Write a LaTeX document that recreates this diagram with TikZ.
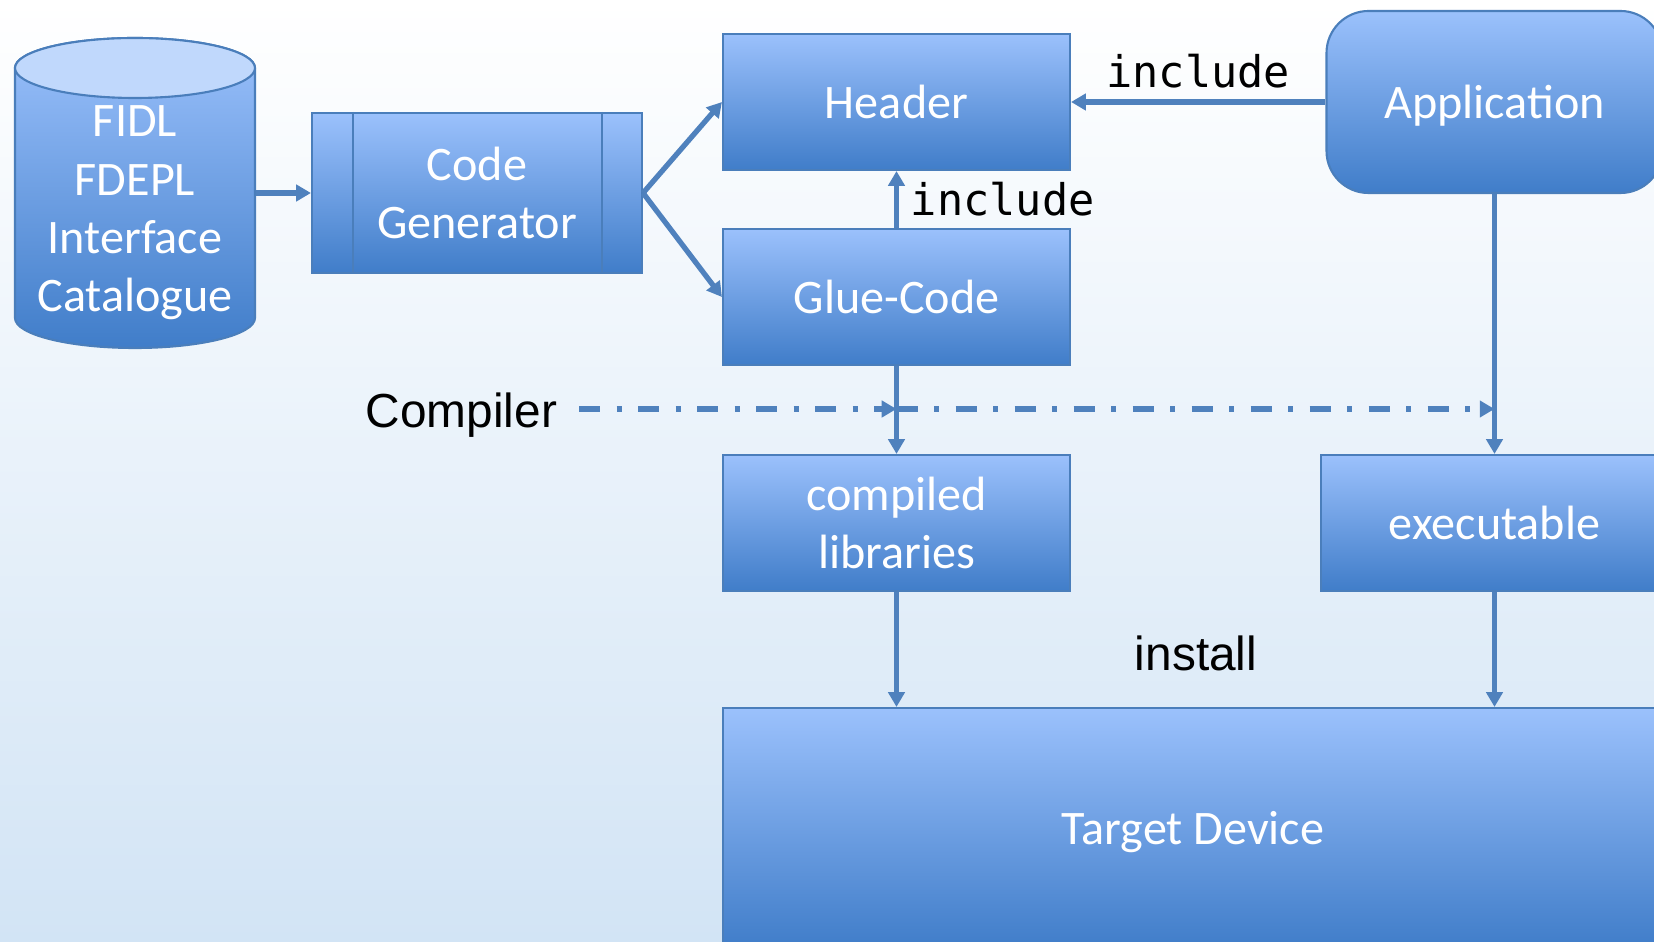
\documentclass[tikz,border=0pt]{standalone}
\usepackage{fontspec}
\setmainfont{Carlito}
\newfontfamily\codefont{DejaVu Sans Mono}
\newfontfamily\labelfont{Liberation Sans}
\usetikzlibrary{arrows.meta}

\definecolor{boxtop}{RGB}{155,193,252}
\definecolor{boxbot}{RGB}{64,125,201}
\definecolor{boxline}{RGB}{74,126,187}
\definecolor{arrowblue}{RGB}{79,129,189}
\definecolor{bgbot}{RGB}{210,228,245}
\definecolor{captop}{RGB}{192,216,252}

\tikzset{
  block/.style={draw=boxline, line width=0.6pt, top color=boxtop, bottom color=boxbot,
    text=white, font=\fontsize{13.7}{16.6}\selectfont, align=center,
    minimum width=3.47cm, minimum height=1.36cm, inner sep=0pt},
  dbtext/.style={text=white, font=\fontsize{13.7}{16.6}\selectfont, align=center,
    minimum width=2.4cm, inner sep=0pt},
  flow/.style={every edge/.append style={draw=arrowblue, line width=1.5pt}},
  compile/.style={every edge/.append style={draw=arrowblue, line width=1.5pt,
    dash pattern=on 0.21cm off 0.165cm on 0.05cm off 0.165cm}},
  incl/.style={font=\codefont\fontsize{12.4}{14}\selectfont},
  lbl/.style={font=\labelfont\fontsize{13.6}{16}\selectfont}
}

\begin{document}
\begin{tikzpicture}[>={Triangle[length=4.2pt,width=4.6pt]}]
\useasboundingbox (0,0) rectangle (16.54,-9.42);
\shade[top color=white, bottom color=bgbot] (0,0) rectangle (16.54,-9.42);
\clip (0,0) rectangle (16.54,-9.42);

%Datenbank
\path[draw=boxline, line width=0.6pt, top color=boxtop, bottom color=boxbot]
  (0.15,-0.68) -- (0.15,-3.18)
  arc[start angle=180, end angle=360, x radius=1.2cm, y radius=0.3cm]
  -- (2.55,-0.68)
  arc[start angle=0, end angle=180, x radius=1.2cm, y radius=0.3cm] -- cycle;
\draw[boxline, line width=0.6pt, fill=captop] (1.35,-0.68) ellipse [x radius=1.2cm, y radius=0.3cm];
\node[dbtext] (cat) at (1.35,-2.13) {FIDL\\FDEPL\\Interface\\Catalogue};

\node[block, minimum width=3.3cm, minimum height=1.6cm] (gen) at (4.77,-1.93) {Code\\Generator};
\draw[boxline, line width=0.6pt]
  ([xshift=0.42cm]gen.north west) -- ([xshift=0.42cm]gen.south west)
  ([xshift=-0.41cm]gen.north east) -- ([xshift=-0.41cm]gen.south east);

\node[block] (hdr) at (8.965,-1.02) {Header};
\node[block] (glue) at (8.965,-2.97) {Glue-Code};
\node[block, minimum width=3.36cm, minimum height=1.82cm, rounded corners=0.42cm, text depth=0pt] (app) at (14.945,-1.02) {Application};
\node[block] (lib) at (8.965,-5.23) {compiled\\libraries};
\node[block] (exe) at (14.945,-5.23) {executable};
\node[block, minimum width=9.4cm, minimum height=2.4cm, text depth=0pt] (dev) at (11.93,-8.28) {Target Device};

\node[lbl] (cmp) at (4.615,-4.15) {Compiler};
\node[lbl] (inst) at (11.96,-6.53) {install};

%Koordinaten für die Compiler-Linie
\coordinate (cl) at (5.79,-4.09);
\coordinate (c1) at (glue.south |- cl);
\coordinate (c2) at (app.south |- cl);

\path [->, flow, every edge/.append style={line width=1.7pt}] (cat.east |- gen.west) edge (gen.west);
\path [->, flow]
(gen.east) edge (hdr.west)
(gen.east) edge (glue.west)
(app.west) edge node [incl, above]{include} (hdr.east)
(glue.north) edge node [incl, right]{include} (hdr.south)
(glue.south) edge (lib.north)
(app.south) edge (exe.north)
(lib.south) edge (dev.north -| lib.south)
(exe.south) edge (dev.north -| exe.south)
;
\path [->, compile]
(cl) edge (c1)
(c1) edge (c2)
;
\end{tikzpicture}
\end{document}
